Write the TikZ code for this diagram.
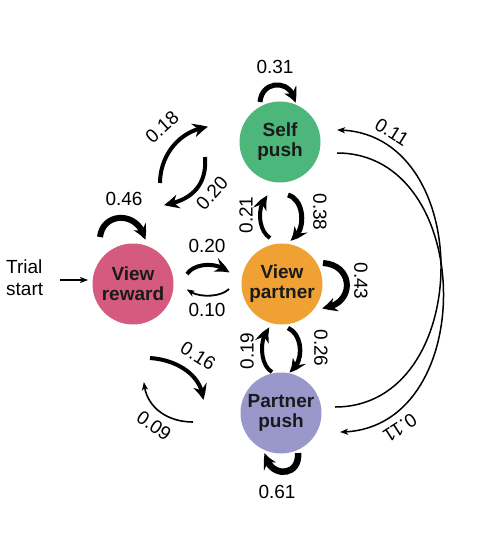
\documentclass[tikz,border=0pt]{standalone}
\usepackage{fontspec}
\setmainfont{Liberation Sans}
\usetikzlibrary{arrows.meta,bending}
\definecolor{cgreen}{HTML}{4DB67A}
\definecolor{corange}{HTML}{EFA134}
\definecolor{cpink}{HTML}{D45A80}
\definecolor{cpurple}{HTML}{9A98CB}
\definecolor{ctext}{HTML}{1A1A1A}
\begin{document}
\begin{tikzpicture}[x=1pt,y=-1pt,
  state/.style={circle, minimum size=81pt, inner sep=0pt, font=\fontsize{19}{20}\selectfont\bfseries, text=ctext, align=center},
  lbl/.style={font=\fontsize{19}{21}\selectfont, inner sep=0pt},
  flow/.style={line width=#1, -{Stealth[length=15pt,width=14pt,inset=5pt,bend]}},
  thinflow/.style={line width=#1, -{Stealth[length=8pt,width=6pt,inset=2pt,bend]}},
]
\useasboundingbox (0,0) rectangle (493,534);
% states
\node[state, fill=cgreen] (SP) at (280,142) {Self\\push};
\node[state, fill=corange] (VP) at (282,284) {View\\partner};
\node[state, fill=cpink] (VR) at (133,284) {View\\reward};
\node[state, fill=cpurple] (PP) at (281,413) {Partner\\push};
% trial start
\node[lbl, align=left, anchor=west, font=\fontsize{19}{22}\selectfont] (TS) at (6,278) {Trial\\start};
\coordinate (tsA) at (60,280);
\coordinate (tsB) at (88,280);
\draw[thinflow=1.5pt] (tsA) -- (tsB);
% coordinates for connector ends
\coordinate (a1s) at (260,102); \coordinate (a1e) at (295,103);
\coordinate (a2s) at (160,183); \coordinate (a2e) at (208,127);
\coordinate (a3s) at (205,157); \coordinate (a3e) at (164,205);
\coordinate (a4s) at (100,237); \coordinate (a4e) at (145,240);
\coordinate (a5s) at (288,195); \coordinate (a5e) at (290,240);
\coordinate (a6s) at (270,238); \coordinate (a6e) at (268,196);
\coordinate (a7s) at (187,274); \coordinate (a7e) at (229,273);
\coordinate (a8s) at (229,289); \coordinate (a8e) at (187,289);
\coordinate (a9s) at (323,263); \coordinate (a9e) at (322,308);
\coordinate (b1s) at (288,328); \coordinate (b1e) at (289,372);
\coordinate (b2s) at (272,372); \coordinate (b2e) at (270,328);
\coordinate (b3s) at (150,358); \coordinate (b3e) at (203,400);
\coordinate (b4s) at (193,422); \coordinate (b4e) at (144,382);
\coordinate (b5s) at (298,453); \coordinate (b5e) at (265,453);
\coordinate (c1s) at (337,153); \coordinate (c1e) at (340,432);
\coordinate (c2s) at (335,407); \coordinate (c2e) at (337,130);
% connectors
\draw[flow=5pt] (a1s) .. controls (262,79) and (293,79) .. (a1e);
\draw[flow=4pt] (a2s) .. controls (160,155) and (180,130) .. (a2e);
\draw[flow=4pt] (a3s) .. controls (207,182) and (195,200) .. (a3e);
\draw[flow=6pt] (a4s) .. controls (103,211) and (140,211) .. (a4e);
\draw[flow=5pt] (a5s) .. controls (306,200) and (306,235) .. (a5e);
\draw[flow=4pt] (a6s) .. controls (257,230) and (257,203) .. (a6e);
\draw[flow=4pt] (a7s) .. controls (195,262) and (220,262) .. (a7e);
\draw[thinflow=1.8pt] (a8s) .. controls (220,298) and (195,298) .. (a8e);
\draw[flow=6pt] (a9s) .. controls (355,265) and (355,306) .. (a9e);
\draw[flow=4.5pt] (b1s) .. controls (304,335) and (304,365) .. (b1e);
\draw[flow=4pt] (b2s) .. controls (259,365) and (259,335) .. (b2e);
\draw[flow=4pt] (b3s) .. controls (180,360) and (203,378) .. (b3e);
\draw[thinflow=1.6pt] (b4s) .. controls (165,422) and (145,405) .. (b4e);
\draw[flow=6.5pt] (b5s) .. controls (300,478) and (268,478) .. (b5e);
\draw[thinflow=1.5pt] (c1s) .. controls (477,153) and (480,432) .. (c1e);
\draw[thinflow=1.5pt] (c2s) .. controls (475,407) and (477,130) .. (c2e);
% labels
\node[lbl] (l31) at (275,67) {0.31};
\node[lbl, rotate=42] (l18) at (162,127) {0.18};
\node[lbl, rotate=48] (l20a) at (212,193) {0.20};
\node[lbl] (l46) at (124,199) {0.46};
\node[lbl, rotate=-90] (l38) at (320,212) {0.38};
\node[lbl, rotate=90] (l21) at (246,215) {0.21};
\node[lbl] (l20b) at (207,246) {0.20};
\node[lbl] (l10) at (207,310) {0.10};
\node[lbl, rotate=-90] (l43) at (361,281) {0.43};
\node[lbl, rotate=-90] (l26) at (321,348) {0.26};
\node[lbl, rotate=90] (l19) at (247,351) {0.19};
\node[lbl, rotate=-32] (l16) at (198,356) {0.16};
\node[lbl, rotate=-35] (l09) at (154,426) {0.09};
\node[lbl] (l61) at (277,492) {0.61};
\node[lbl, rotate=-32] (l11a) at (392,132) {0.11};
\node[lbl, rotate=213] (l11b) at (400,428) {0.11};
\end{tikzpicture}
\end{document}
